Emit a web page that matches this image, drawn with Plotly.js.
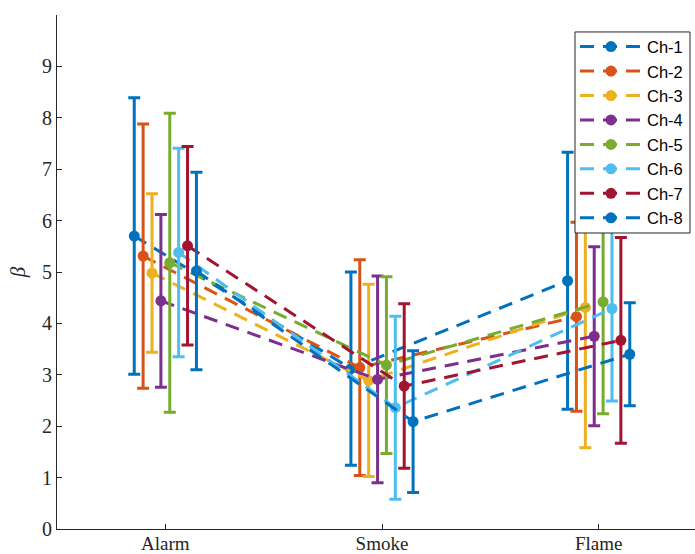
<!DOCTYPE html>
<html>
<head>
<meta charset="utf-8">
<script src="https://cdn.plot.ly/plotly-3.0.1.min.js"></script>
<style>html,body{margin:0;padding:0;background:#fff;overflow:hidden;}#chart{width:712px;height:554px;}</style>
</head>
<body>
<div id="chart"></div>
<script>
const categories = ['Alarm', 'Smoke', 'Flame'];
const channels = ['Ch-1', 'Ch-2', 'Ch-3', 'Ch-4', 'Ch-5', 'Ch-6', 'Ch-7', 'Ch-8'];
const means = [
  [5.70, 3.12, 4.83],
  [5.31, 3.14, 4.13],
  [4.98, 2.89, 4.31],
  [4.44, 2.91, 3.75],
  [5.18, 3.19, 4.42],
  [5.38, 2.36, 4.29],
  [5.51, 2.78, 3.67],
  [5.02, 2.09, 3.40]
];
const errors = [
  [2.69, 1.88, 2.50],
  [2.57, 2.10, 1.84],
  [1.54, 1.87, 2.73],
  [1.68, 2.01, 1.74],
  [2.91, 1.72, 2.18],
  [2.03, 1.78, 1.80],
  [1.93, 1.60, 2.00],
  [1.92, 1.38, 1.00]
];
const yTicks = [0, 1, 2, 3, 4, 5, 6, 7, 8, 9];

const colors = ['#0072BD', '#D95319', '#EDB120', '#7E2F8E', '#77AC30', '#4DBEEE', '#A2142F', '#0072BD'];
const step = 0.041;
const traces = channels.map((name, i) => {
  const off = (i - (channels.length - 1) / 2) * step;
  return {
    type: 'scatter',
    mode: 'lines+markers',
    name: name,
    x: categories.map((c, k) => k + 1 + off),
    y: means[i],
    line: {color: colors[i], width: 3, dash: '14px,9px'},
    marker: {color: colors[i], size: 11, symbol: 'circle'},
    error_y: {type: 'data', array: errors[i], visible: true, color: colors[i], thickness: 3, width: 6}
  };
});

const axisColor = '#262626';
const layout = {
  width: 712, height: 554,
  margin: {l: 57, r: 5, t: 15, b: 25, autoexpand: false},
  paper_bgcolor: '#fff', plot_bgcolor: '#fff',
  showlegend: true,
  xaxis: {
    range: [0.5, 3.5],
    tickvals: [1, 2, 3], ticktext: categories,
    showline: true, linecolor: axisColor, linewidth: 1,
    ticks: 'inside', ticklen: 5, tickcolor: axisColor,
    showgrid: false, zeroline: false,
    ticklabelstandoff: -3,
    tickfont: {family: 'Liberation Serif, serif', size: 19, color: axisColor}
  },
  yaxis: {
    range: [0, 10],
    tickvals: yTicks, ticktext: yTicks.map(String),
    showline: true, linecolor: axisColor, linewidth: 1,
    ticks: 'inside', ticklen: 5, tickcolor: axisColor,
    showgrid: false, zeroline: false,
    tickfont: {family: 'Liberation Serif, serif', size: 20, color: axisColor},
    title: {text: '<i>β</i>', font: {family: 'Liberation Serif, serif', size: 21, color: axisColor}, standoff: 10}
  },
  shapes: [{
    type: 'rect', xref: 'paper', yref: 'paper', layer: 'above',
    x0: 0.7969, x1: 0.9738, y0: 0.5759, y1: 0.967,
    fillcolor: '#fff', line: {color: axisColor, width: 1}
  }],
  legend: {
    x: 0.7969, y: 0.972, xanchor: 'left', yanchor: 'top',
    bgcolor: 'rgba(0,0,0,0)', borderwidth: 0,
    font: {family: 'Liberation Sans, Arial, sans-serif', size: 16.5, color: '#000'},
    itemwidth: 62
  }
};

Plotly.newPlot('chart', traces, layout, {displayModeBar: false, staticPlot: true});
</script>
</body>
</html>
